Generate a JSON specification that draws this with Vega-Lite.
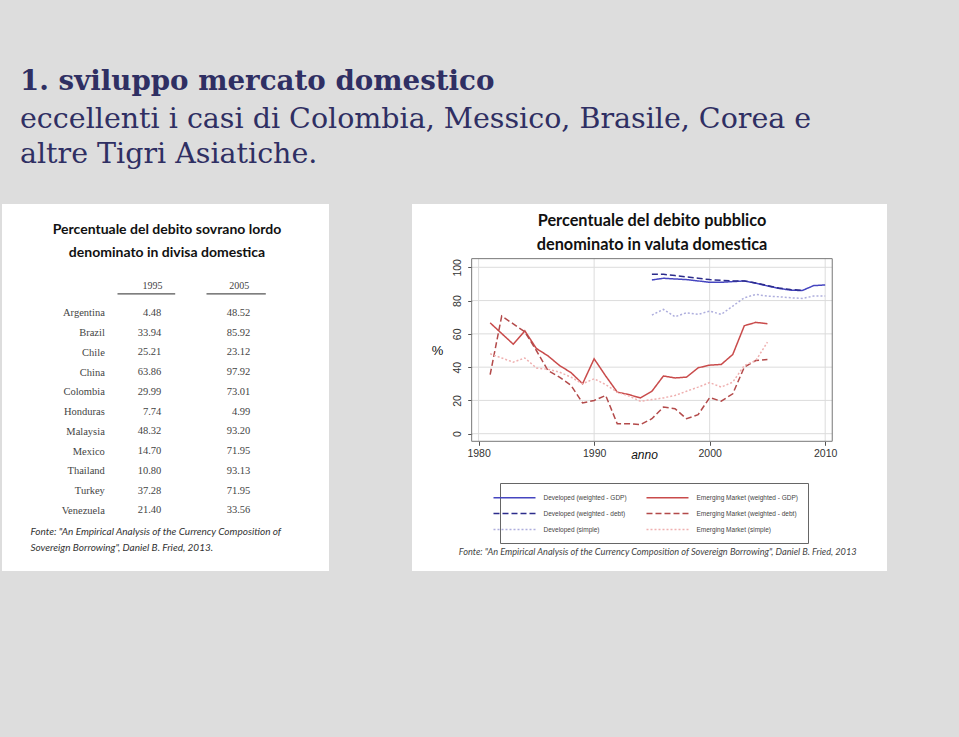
{
  "$schema": "https://vega.github.io/schema/vega-lite/v6.json",
  "background": "#dddddd",
  "padding": {"left": 2, "top": 68, "right": 72, "bottom": 166},
  "title": {
    "text": "1. sviluppo mercato domestico",
    "subtitle": ["eccellenti i casi di  Colombia, Messico, Brasile, Corea e", "altre Tigri Asiatiche."],
    "anchor": "start", "frame": "group", "dx": 18, "offset": 35,
    "font": "DejaVu Serif", "fontSize": 27.7, "fontWeight": "bold", "color": "#2f2f63",
    "subtitleFont": "DejaVu Serif", "subtitleFontSize": 28.5, "subtitleColor": "#2f2f63",
    "subtitleLineHeight": 35.6, "subtitlePadding": 9, "subtitleFontWeight": "normal"
  },
  "datasets": {
    "tabella": [
      {"paese": "Argentina", "v1995": "4.48", "v2005": "48.52"},
      {"paese": "Brazil", "v1995": "33.94", "v2005": "85.92"},
      {"paese": "Chile", "v1995": "25.21", "v2005": "23.12"},
      {"paese": "China", "v1995": "63.86", "v2005": "97.92"},
      {"paese": "Colombia", "v1995": "29.99", "v2005": "73.01"},
      {"paese": "Honduras", "v1995": "7.74", "v2005": "4.99"},
      {"paese": "Malaysia", "v1995": "48.32", "v2005": "93.20"},
      {"paese": "Mexico", "v1995": "14.70", "v2005": "71.95"},
      {"paese": "Thailand", "v1995": "10.80", "v2005": "93.13"},
      {"paese": "Turkey", "v1995": "37.28", "v2005": "71.95"},
      {"paese": "Venezuela", "v1995": "21.40", "v2005": "33.56"}
    ],
    "fonte_grafico": [
      {"fonte": "Fonte: \"An Empirical Analysis of the Currency Composition of Sovereign Borrowing\", Daniel B. Fried, 2013"}
    ],
    "griglia_x": [{"v": 1980}, {"v": 1990}, {"v": 2000}, {"v": 2010}],
    "griglia_y": [{"v": 0}, {"v": 20}, {"v": 40}, {"v": 60}, {"v": 80}, {"v": 100}],
    "serie": [
      {"anno": 1995, "valore": 92.4, "serie": "Developed (weighted - GDP)"},
      {"anno": 1996, "valore": 93.4, "serie": "Developed (weighted - GDP)"},
      {"anno": 1997, "valore": 93.0, "serie": "Developed (weighted - GDP)"},
      {"anno": 1998, "valore": 92.6, "serie": "Developed (weighted - GDP)"},
      {"anno": 1999, "valore": 91.8, "serie": "Developed (weighted - GDP)"},
      {"anno": 2000, "valore": 91.0, "serie": "Developed (weighted - GDP)"},
      {"anno": 2001, "valore": 91.0, "serie": "Developed (weighted - GDP)"},
      {"anno": 2002, "valore": 91.4, "serie": "Developed (weighted - GDP)"},
      {"anno": 2003, "valore": 91.8, "serie": "Developed (weighted - GDP)"},
      {"anno": 2004, "valore": 90.4, "serie": "Developed (weighted - GDP)"},
      {"anno": 2005, "valore": 88.8, "serie": "Developed (weighted - GDP)"},
      {"anno": 2006, "valore": 87.3, "serie": "Developed (weighted - GDP)"},
      {"anno": 2007, "valore": 86.3, "serie": "Developed (weighted - GDP)"},
      {"anno": 2008, "valore": 86.0, "serie": "Developed (weighted - GDP)"},
      {"anno": 2009, "valore": 89.0, "serie": "Developed (weighted - GDP)"},
      {"anno": 2010, "valore": 89.4, "serie": "Developed (weighted - GDP)"},
      {"anno": 1995, "valore": 95.8, "serie": "Developed (weighted - debt)"},
      {"anno": 1996, "valore": 95.8, "serie": "Developed (weighted - debt)"},
      {"anno": 1997, "valore": 95.0, "serie": "Developed (weighted - debt)"},
      {"anno": 1998, "valore": 94.2, "serie": "Developed (weighted - debt)"},
      {"anno": 1999, "valore": 93.4, "serie": "Developed (weighted - debt)"},
      {"anno": 2000, "valore": 92.6, "serie": "Developed (weighted - debt)"},
      {"anno": 2001, "valore": 92.2, "serie": "Developed (weighted - debt)"},
      {"anno": 2002, "valore": 91.8, "serie": "Developed (weighted - debt)"},
      {"anno": 2003, "valore": 91.8, "serie": "Developed (weighted - debt)"},
      {"anno": 2004, "valore": 90.6, "serie": "Developed (weighted - debt)"},
      {"anno": 2005, "valore": 89.0, "serie": "Developed (weighted - debt)"},
      {"anno": 2006, "valore": 87.5, "serie": "Developed (weighted - debt)"},
      {"anno": 2007, "valore": 86.6, "serie": "Developed (weighted - debt)"},
      {"anno": 2008, "valore": 86.2, "serie": "Developed (weighted - debt)"},
      {"anno": 1995, "valore": 71.3, "serie": "Developed (simple)"},
      {"anno": 1996, "valore": 74.7, "serie": "Developed (simple)"},
      {"anno": 1997, "valore": 70.3, "serie": "Developed (simple)"},
      {"anno": 1998, "valore": 72.7, "serie": "Developed (simple)"},
      {"anno": 1999, "valore": 71.7, "serie": "Developed (simple)"},
      {"anno": 2000, "valore": 73.7, "serie": "Developed (simple)"},
      {"anno": 2001, "valore": 71.7, "serie": "Developed (simple)"},
      {"anno": 2002, "valore": 76.7, "serie": "Developed (simple)"},
      {"anno": 2003, "valore": 81.7, "serie": "Developed (simple)"},
      {"anno": 2004, "valore": 83.7, "serie": "Developed (simple)"},
      {"anno": 2005, "valore": 82.7, "serie": "Developed (simple)"},
      {"anno": 2006, "valore": 82.3, "serie": "Developed (simple)"},
      {"anno": 2007, "valore": 81.7, "serie": "Developed (simple)"},
      {"anno": 2008, "valore": 81.3, "serie": "Developed (simple)"},
      {"anno": 2009, "valore": 82.7, "serie": "Developed (simple)"},
      {"anno": 2010, "valore": 82.7, "serie": "Developed (simple)"},
      {"anno": 1981, "valore": 66.6, "serie": "Emerging Market (weighted - GDP)"},
      {"anno": 1982, "valore": 60.2, "serie": "Emerging Market (weighted - GDP)"},
      {"anno": 1983, "valore": 53.8, "serie": "Emerging Market (weighted - GDP)"},
      {"anno": 1984, "valore": 61.8, "serie": "Emerging Market (weighted - GDP)"},
      {"anno": 1985, "valore": 51.2, "serie": "Emerging Market (weighted - GDP)"},
      {"anno": 1986, "valore": 46.8, "serie": "Emerging Market (weighted - GDP)"},
      {"anno": 1987, "valore": 41.0, "serie": "Emerging Market (weighted - GDP)"},
      {"anno": 1988, "valore": 36.7, "serie": "Emerging Market (weighted - GDP)"},
      {"anno": 1989, "valore": 30.0, "serie": "Emerging Market (weighted - GDP)"},
      {"anno": 1990, "valore": 45.0, "serie": "Emerging Market (weighted - GDP)"},
      {"anno": 1991, "valore": 34.7, "serie": "Emerging Market (weighted - GDP)"},
      {"anno": 1992, "valore": 25.0, "serie": "Emerging Market (weighted - GDP)"},
      {"anno": 1993, "valore": 23.5, "serie": "Emerging Market (weighted - GDP)"},
      {"anno": 1994, "valore": 21.5, "serie": "Emerging Market (weighted - GDP)"},
      {"anno": 1995, "valore": 25.5, "serie": "Emerging Market (weighted - GDP)"},
      {"anno": 1996, "valore": 34.7, "serie": "Emerging Market (weighted - GDP)"},
      {"anno": 1997, "valore": 33.5, "serie": "Emerging Market (weighted - GDP)"},
      {"anno": 1998, "valore": 34.0, "serie": "Emerging Market (weighted - GDP)"},
      {"anno": 1999, "valore": 39.6, "serie": "Emerging Market (weighted - GDP)"},
      {"anno": 2000, "valore": 41.2, "serie": "Emerging Market (weighted - GDP)"},
      {"anno": 2001, "valore": 41.6, "serie": "Emerging Market (weighted - GDP)"},
      {"anno": 2002, "valore": 47.6, "serie": "Emerging Market (weighted - GDP)"},
      {"anno": 2003, "valore": 64.9, "serie": "Emerging Market (weighted - GDP)"},
      {"anno": 2004, "valore": 66.9, "serie": "Emerging Market (weighted - GDP)"},
      {"anno": 2005, "valore": 66.1, "serie": "Emerging Market (weighted - GDP)"},
      {"anno": 1981, "valore": 35.5, "serie": "Emerging Market (weighted - debt)"},
      {"anno": 1982, "valore": 70.7, "serie": "Emerging Market (weighted - debt)"},
      {"anno": 1983, "valore": 66.0, "serie": "Emerging Market (weighted - debt)"},
      {"anno": 1984, "valore": 61.2, "serie": "Emerging Market (weighted - debt)"},
      {"anno": 1985, "valore": 50.0, "serie": "Emerging Market (weighted - debt)"},
      {"anno": 1986, "valore": 38.0, "serie": "Emerging Market (weighted - debt)"},
      {"anno": 1987, "valore": 34.0, "serie": "Emerging Market (weighted - debt)"},
      {"anno": 1988, "valore": 29.0, "serie": "Emerging Market (weighted - debt)"},
      {"anno": 1989, "valore": 18.5, "serie": "Emerging Market (weighted - debt)"},
      {"anno": 1990, "valore": 20.0, "serie": "Emerging Market (weighted - debt)"},
      {"anno": 1991, "valore": 23.0, "serie": "Emerging Market (weighted - debt)"},
      {"anno": 1992, "valore": 6.0, "serie": "Emerging Market (weighted - debt)"},
      {"anno": 1993, "valore": 6.0, "serie": "Emerging Market (weighted - debt)"},
      {"anno": 1994, "valore": 5.4, "serie": "Emerging Market (weighted - debt)"},
      {"anno": 1995, "valore": 9.0, "serie": "Emerging Market (weighted - debt)"},
      {"anno": 1996, "valore": 16.0, "serie": "Emerging Market (weighted - debt)"},
      {"anno": 1997, "valore": 15.0, "serie": "Emerging Market (weighted - debt)"},
      {"anno": 1998, "valore": 9.0, "serie": "Emerging Market (weighted - debt)"},
      {"anno": 1999, "valore": 11.4, "serie": "Emerging Market (weighted - debt)"},
      {"anno": 2000, "valore": 21.7, "serie": "Emerging Market (weighted - debt)"},
      {"anno": 2001, "valore": 19.5, "serie": "Emerging Market (weighted - debt)"},
      {"anno": 2002, "valore": 24.0, "serie": "Emerging Market (weighted - debt)"},
      {"anno": 2003, "valore": 40.0, "serie": "Emerging Market (weighted - debt)"},
      {"anno": 2004, "valore": 44.0, "serie": "Emerging Market (weighted - debt)"},
      {"anno": 2005, "valore": 44.6, "serie": "Emerging Market (weighted - debt)"},
      {"anno": 1981, "valore": 48.0, "serie": "Emerging Market (simple)"},
      {"anno": 1982, "valore": 45.5, "serie": "Emerging Market (simple)"},
      {"anno": 1983, "valore": 43.0, "serie": "Emerging Market (simple)"},
      {"anno": 1984, "valore": 45.5, "serie": "Emerging Market (simple)"},
      {"anno": 1985, "valore": 39.5, "serie": "Emerging Market (simple)"},
      {"anno": 1986, "valore": 38.7, "serie": "Emerging Market (simple)"},
      {"anno": 1987, "valore": 37.0, "serie": "Emerging Market (simple)"},
      {"anno": 1988, "valore": 34.0, "serie": "Emerging Market (simple)"},
      {"anno": 1989, "valore": 30.0, "serie": "Emerging Market (simple)"},
      {"anno": 1990, "valore": 33.0, "serie": "Emerging Market (simple)"},
      {"anno": 1991, "valore": 29.5, "serie": "Emerging Market (simple)"},
      {"anno": 1992, "valore": 25.0, "serie": "Emerging Market (simple)"},
      {"anno": 1993, "valore": 22.7, "serie": "Emerging Market (simple)"},
      {"anno": 1994, "valore": 19.5, "serie": "Emerging Market (simple)"},
      {"anno": 1995, "valore": 20.5, "serie": "Emerging Market (simple)"},
      {"anno": 1996, "valore": 21.5, "serie": "Emerging Market (simple)"},
      {"anno": 1997, "valore": 23.0, "serie": "Emerging Market (simple)"},
      {"anno": 1998, "valore": 25.5, "serie": "Emerging Market (simple)"},
      {"anno": 1999, "valore": 28.0, "serie": "Emerging Market (simple)"},
      {"anno": 2000, "valore": 30.7, "serie": "Emerging Market (simple)"},
      {"anno": 2001, "valore": 28.0, "serie": "Emerging Market (simple)"},
      {"anno": 2002, "valore": 31.0, "serie": "Emerging Market (simple)"},
      {"anno": 2003, "valore": 41.0, "serie": "Emerging Market (simple)"},
      {"anno": 2004, "valore": 44.0, "serie": "Emerging Market (simple)"},
      {"anno": 2005, "valore": 55.0, "serie": "Emerging Market (simple)"}
    ]
  },
  "spacing": 83,
  "resolve": {
    "scale": {"color": "independent", "strokeDash": "independent"},
    "legend": {"color": "independent", "strokeDash": "independent"}
  },
  "hconcat": [
    {
      "width": 327,
      "height": 367,
      "view": {"fill": "white", "stroke": null},
      "title": {
        "text": ["Percentuale del debito sovrano lordo", "denominato in divisa domestica"],
        "font": "Lato", "fontSize": 14, "fontWeight": "bold", "color": "#111111",
        "anchor": "middle", "frame": "group", "lineHeight": 23, "offset": -56, "dx": 1.5
      },
      "data": {"name": "tabella"},
      "layer": [
        {
          "mark": {"type": "text", "align": "right", "baseline": "middle", "dx": 9.3, "font": "Liberation Serif", "fontSize": 10.5, "color": "#444444"},
          "encoding": {
            "x": {
              "datum": 1995, "type": "quantitative",
              "scale": {"domain": [1977.7, 2015.42], "nice": false, "zero": false},
              "axis": {
                "orient": "top", "offset": -89.3, "values": [1995, 2005], "format": "d", "title": null,
                "ticks": false, "tickSize": 0, "grid": false, "labelPadding": 3,
                "labelFont": "Liberation Serif", "labelFontSize": 10, "labelColor": "#444444",
                "domain": true, "domainColor": "#555555", "domainWidth": 1.3,
                "domainDash": [0, 115, 57.7, 31.3, 59.3, 400]
              }
            },
            "y": {
              "field": "paese", "type": "nominal", "sort": null,
              "scale": {"range": [99.1, 316.1], "paddingInner": 0, "paddingOuter": 0},
              "axis": {
                "orient": "left", "offset": -102.3, "ticks": false, "tickSize": 0, "domain": false, "grid": false,
                "labelPadding": 0, "labelFont": "Liberation Serif", "labelFontSize": 10.5, "labelColor": "#444444",
                "title": ["Fonte: \"An Empirical Analysis of the Currency Composition of", "Sovereign Borrowing\", Daniel B. Fried, 2013."],
                "titleAngle": 0, "titleAlign": "left", "titleBaseline": "middle",
                "titleX": -74.3, "titleY": 327, "titleFont": "Lato", "titleFontStyle": "italic",
                "titleFontWeight": "normal", "titleFontSize": 10, "titleLineHeight": 16, "titleColor": "#333333"
              }
            },
            "text": {"field": "v1995", "type": "nominal"}
          }
        },
        {
          "mark": {"type": "text", "align": "right", "baseline": "middle", "dx": 11.6, "font": "Liberation Serif", "fontSize": 10.5, "color": "#444444"},
          "encoding": {
            "x": {"datum": 2005, "type": "quantitative"},
            "y": {"field": "paese", "type": "nominal", "sort": null},
            "text": {"field": "v2005", "type": "nominal"}
          }
        }
      ]
    },
    {
      "width": 475,
      "height": 367,
      "view": {"fill": "white", "stroke": null},
      "title": {
        "text": ["Percentuale del debito pubblico", "denominato in valuta domestica"],
        "font": "Lato", "fontSize": 16.3, "fontWeight": "bold", "color": "#111111",
        "anchor": "middle", "frame": "group", "lineHeight": 24, "offset": -49, "dx": 2.5
      },
      "layer": [
        {
          "data": {"name": "griglia_x"},
          "mark": {"type": "rule", "color": "#dcdcdc", "strokeWidth": 1},
          "encoding": {
            "x": {"field": "v", "type": "quantitative"},
            "y": {"datum": -4.57, "type": "quantitative"},
            "y2": {"datum": 105.2}
          }
        },
        {
          "data": {"name": "griglia_y"},
          "mark": {"type": "rule", "color": "#dcdcdc", "strokeWidth": 1},
          "encoding": {
            "y": {"field": "v", "type": "quantitative"},
            "x": {"datum": 1979.4, "type": "quantitative"},
            "x2": {"datum": 2010.61}
          }
        },
        {
          "data": {"name": "serie"},
          "mark": {"type": "line", "strokeWidth": 1.5},
          "encoding": {
            "x": {
              "field": "anno", "type": "quantitative",
              "scale": {"domain": [1974.235, 2015.35], "nice": false, "zero": false},
              "axis": {
                "orient": "bottom", "offset": -129.7,
                "values": [1980, 1990, 2000, 2010], "format": "d",
                "grid": false, "domain": false,
                "tickColor": "#555555", "tickSize": 4, "labelPadding": 3.5,
                "labelFont": "Liberation Sans", "labelFontSize": 10.5, "labelColor": "#333333",
                "title": "anno", "titleFont": "Liberation Sans", "titleFontStyle": "italic", "titleFontWeight": "normal",
                "titleFontSize": 12, "titleColor": "#111111", "titleX": 232, "titleY": 12.7,
                "titleAlign": "center", "titleBaseline": "middle"
              }
            },
            "y": {
              "field": "valore", "type": "quantitative",
              "scale": {"domain": [-82.51, 138.04], "nice": false, "zero": false},
              "axis": {
                "orient": "left", "offset": -59.7,
                "values": [0, 20, 40, 60, 80, 100], "tickCount": 6,
                "labelOverlap": false, "labelBound": false,
                "grid": false, "domain": false,
                "tickColor": "#555555", "tickSize": 4, "labelPadding": 5, "labelAngle": 270,
                "labelFont": "Liberation Sans", "labelFontSize": 10.5, "labelColor": "#333333",
                "title": "%", "titleAngle": 0, "titleFont": "Liberation Sans", "titleFontWeight": "normal",
                "titleFontSize": 13, "titleColor": "#111111", "titleX": -34.7, "titleY": 146,
                "titleAlign": "center", "titleBaseline": "middle"
              }
            },
            "color": {
              "field": "serie", "type": "nominal",
              "scale": {
                "domain": ["Developed (weighted - GDP)", "Developed (weighted - debt)", "Developed (simple)", "Emerging Market (weighted - GDP)", "Emerging Market (weighted - debt)", "Emerging Market (simple)"],
                "range": ["#4545c0", "#2c2c8c", "#aeaedd", "#c94b4b", "#b34a4a", "#efb0b0"]
              },
              "legend": {
                "title": null, "orient": "none", "legendX": 88, "legendY": 279, "columns": 2,
                "symbolType": "M-5,0H5", "symbolSize": 70.6, "symbolStrokeWidth": 1.5,
                "labelFont": "Liberation Sans", "labelFontSize": 6.5, "labelColor": "#444444",
                "labelOffset": 24, "labelLimit": 300, "strokeColor": "#666666", "padding": 9.5,
                "rowPadding": 7, "columnPadding": 15
              }
            },
            "strokeDash": {
              "field": "serie", "type": "nominal",
              "scale": {
                "domain": ["Developed (weighted - GDP)", "Developed (weighted - debt)", "Developed (simple)", "Emerging Market (weighted - GDP)", "Emerging Market (weighted - debt)", "Emerging Market (simple)"],
                "range": [[1, 0], [6, 3], [2, 2], [1, 0], [6, 3], [2, 2]]
              }
            }
          }
        },
        {
          "data": {"name": "fonte_grafico"},
          "mark": {"type": "rect", "fill": "transparent", "stroke": "#777777", "strokeWidth": 1},
          "encoding": {
            "x": {"datum": 1979.4, "type": "quantitative"},
            "x2": {"datum": 2010.61},
            "y": {"datum": 105.2, "type": "quantitative"},
            "y2": {"datum": -4.57}
          }
        },
        {
          "data": {"name": "fonte_grafico"},
          "mark": {"type": "text", "align": "left", "baseline": "middle", "font": "Lato", "fontStyle": "italic", "fontSize": 9.2, "color": "#444444"},
          "encoding": {
            "x": {"datum": 1978.28, "type": "quantitative"},
            "y": {"datum": -71.1, "type": "quantitative"},
            "text": {"field": "fonte", "type": "nominal"}
          }
        }
      ]
    }
  ],
  "config": {"view": {"stroke": null}}
}
